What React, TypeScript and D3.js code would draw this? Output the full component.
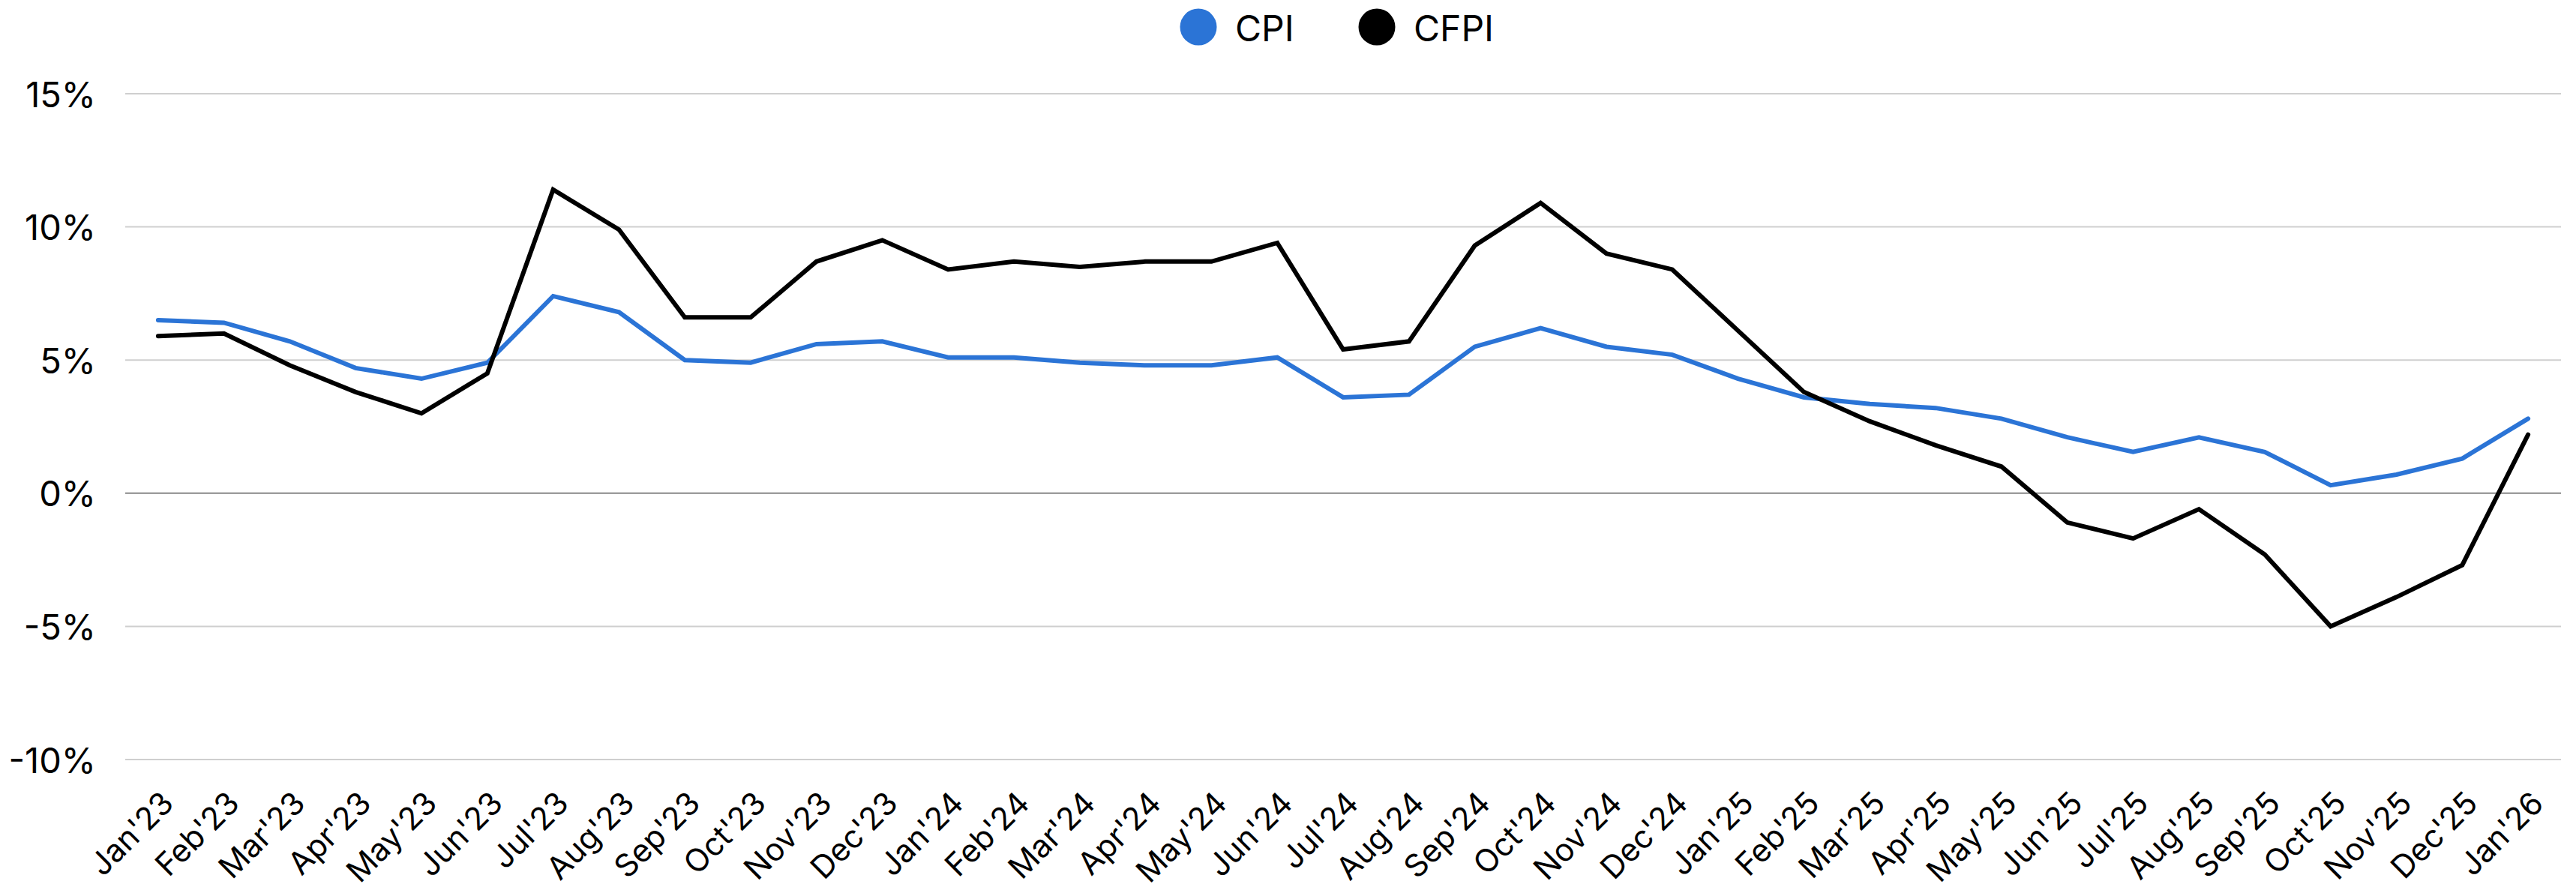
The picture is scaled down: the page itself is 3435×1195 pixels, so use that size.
import React from "react";
import * as d3 from "d3";

const months = [
  "Jan'23","Feb'23","Mar'23","Apr'23","May'23","Jun'23","Jul'23","Aug'23","Sep'23","Oct'23","Nov'23","Dec'23",
  "Jan'24","Feb'24","Mar'24","Apr'24","May'24","Jun'24","Jul'24","Aug'24","Sep'24","Oct'24","Nov'24","Dec'24",
  "Jan'25","Feb'25","Mar'25","Apr'25","May'25","Jun'25","Jul'25","Aug'25","Sep'25","Oct'25","Nov'25","Dec'25",
  "Jan'26",
];

const cpi = [
  6.5, 6.4, 5.7, 4.7, 4.3, 4.9, 7.4, 6.8, 5.0, 4.9, 5.6, 5.7,
  5.1, 5.1, 4.9, 4.8, 4.8, 5.1, 3.6, 3.7, 5.5, 6.2, 5.5, 5.2,
  4.3, 3.6, 3.35, 3.2, 2.8, 2.1, 1.55, 2.1, 1.55, 0.3, 0.7, 1.3,
  2.8,
];

const cfpi = [
  5.9, 6.0, 4.8, 3.8, 3.0, 4.5, 11.4, 9.9, 6.6, 6.6, 8.7, 9.5,
  8.4, 8.7, 8.5, 8.7, 8.7, 9.4, 5.4, 5.7, 9.3, 10.9, 9.0, 8.4,
  6.1, 3.8, 2.7, 1.8, 1.0, -1.1, -1.7, -0.6, -2.3, -5.0, -3.9, -2.7,
  2.2,
];

const yTicks = [15, 10, 5, 0, -5, -10];

const seriesNames = ["CPI", "CFPI"];
const seriesColors = ["#2B74D6", "#000000"];

const W = 3435;
const H = 1195;
const FONT = "Inter, 'Noto Sans', sans-serif";

export default function App() {
  const x = d3.scalePoint<string>().domain(months).range([167, 3415]).padding(0.5);
  const y = d3.scaleLinear().domain([-10, 15]).range([1013, 125]);

  const line = d3
    .line<number>()
    .x((_, i) => x(months[i]) as number)
    .y((d) => y(d));

  const series = [cpi, cfpi];

  return (
    <svg
      width={W}
      height={H}
      style={{ position: "absolute", left: 0, top: 0, background: "#fff" }}
      fontFamily={FONT}
    >
      <rect x={0} y={0} width={W} height={H} fill="#fff" />
      {/* gridlines */}
      {yTicks.map((t) => (
        <g key={t}>
          <line
            x1={167}
            x2={3415}
            y1={y(t)}
            y2={y(t)}
            stroke={t === 0 ? "#888" : "#cfcfcf"}
            strokeWidth={2}
          />
          <text
            x={128}
            y={y(t)}
            textAnchor="end"
            dominantBaseline="central"
            fontSize={47}
            fill="#000"
          >
            {`${t}%`}
          </text>
        </g>
      ))}

      {/* x labels */}
      {months.map((m) => {
        const px = (x(m) as number) + 23;
        const py = 1074;
        return (
          <text
            key={m}
            x={px}
            y={py}
            textAnchor="end"
            fontSize={42}
            fill="#000"
            transform={`rotate(-45 ${px} ${py})`}
          >
            {m}
          </text>
        );
      })}

      {/* lines */}
      {series.map((s, i) => (
        <path
          key={seriesNames[i]}
          d={line(s) || ""}
          fill="none"
          stroke={seriesColors[i]}
          strokeWidth={6}
          strokeLinejoin="miter"
          strokeLinecap="round"
        />
      ))}

      {/* legend */}
      <g>
        <circle cx={1598} cy={36} r={24.5} fill={seriesColors[0]} />
        <text x={1647} y={37} dominantBaseline="central" fontSize={48} fill="#000">
          {seriesNames[0]}
        </text>
        <circle cx={1836} cy={36} r={24.5} fill={seriesColors[1]} />
        <text x={1885} y={37} dominantBaseline="central" fontSize={48} fill="#000">
          {seriesNames[1]}
        </text>
      </g>
    </svg>
  );
}
